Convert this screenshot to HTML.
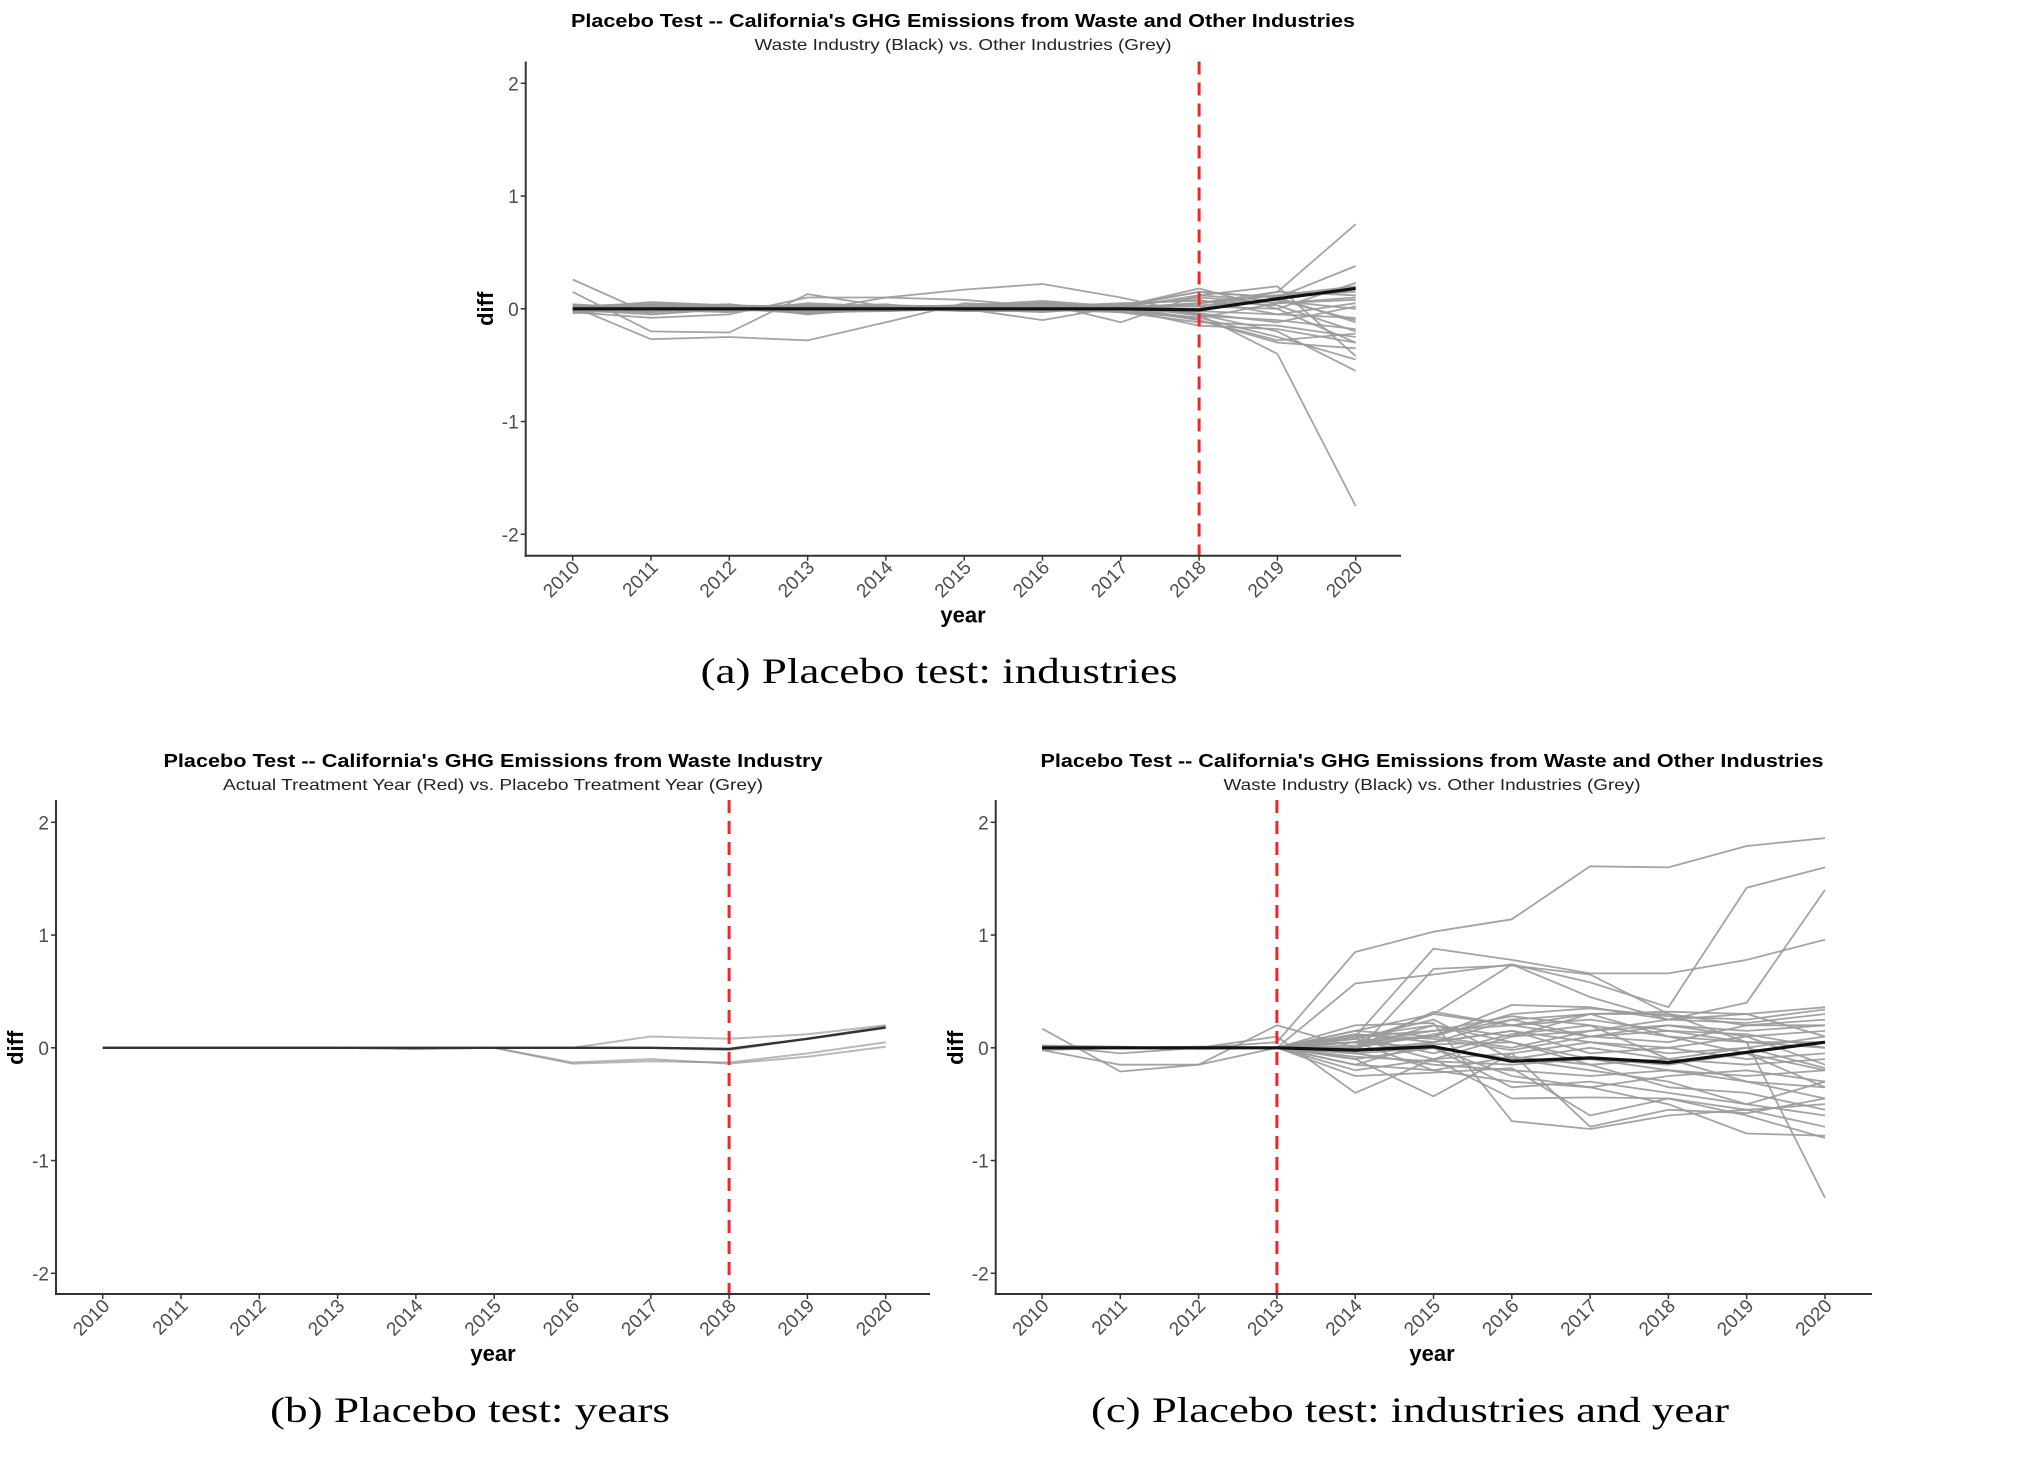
<!DOCTYPE html>
<html><head><meta charset="utf-8"><style>
html,body{margin:0;padding:0;background:#fff}
svg{display:block}
</style></head><body>
<svg id="fig" width="2028" height="1464" viewBox="0 0 2028 1464" xmlns="http://www.w3.org/2000/svg" font-family="'Liberation Sans', Arial, sans-serif">
<rect width="2028" height="1464" fill="#fff"/>
<g id="chartA"></g>
<g id="chartB"></g>
<g id="chartC"></g>
<text x="939" y="683" font-family="'Liberation Serif', serif" font-size="36" text-anchor="middle" textLength="477" lengthAdjust="spacingAndGlyphs">(a) Placebo test: industries</text>
<text x="470" y="1422" font-family="'Liberation Serif', serif" font-size="36" text-anchor="middle" textLength="400" lengthAdjust="spacingAndGlyphs">(b) Placebo test: years</text>
<text x="1410" y="1422" font-family="'Liberation Serif', serif" font-size="36" text-anchor="middle" textLength="638" lengthAdjust="spacingAndGlyphs">(c) Placebo test: industries and year</text>
</svg>
<script>
const years = [2010,2011,2012,2013,2014,2015,2016,2017,2018,2019,2020];
const yTicks = [2,1,0,-1,-2];

const treatA = 2018;
const blackA = [0,0,0,0,0,0,0,0,-0.01,0.09,0.18];
const greyA = [
[0.26,-0.05,0,0.02,0,0.02,0.03,0,0.05,0.15,0.75],
[0.02,-0.27,-0.25,-0.28,-0.12,0.05,0.02,0.01,-0.05,-0.4,-1.75],
[0.15,-0.2,-0.21,0.13,0.02,0.0,-0.1,0.02,0.15,0.1,0.38],
[-0.02,0.02,0.01,-0.02,0.1,0.17,0.22,0.1,-0.05,-0.2,-0.55],
[0.02,0.05,0.03,-0.05,0.02,0.02,0.05,-0.12,0.12,0.2,-0.42],
[0,0.06,0.03,0.01,0.02,0.03,0.07,0.02,0.18,0.0,0.23],
[-0.03,-0.08,-0.05,0.1,0.1,0.08,0.02,0.03,-0.1,-0.3,-0.35],
[0.03,0.02,0.04,-0.03,-0.02,0.0,0.03,0.01,0.05,0.12,0.2],
[-0.02,-0.03,0.01,0.04,0.0,-0.02,-0.02,0.0,-0.08,-0.25,-0.45],
[0.04,0.0,-0.02,0.02,0.03,0.01,0.0,0.02,0.1,0.05,0.1],
[0.01,0.03,0.0,-0.04,-0.01,0.02,0.04,-0.03,-0.12,-0.15,-0.25],
[-0.04,0.01,0.02,0.0,0.01,-0.01,0.01,0.04,0.08,-0.05,0.05],
[0.0,-0.01,-0.03,0.05,0.02,0.0,-0.03,0.02,0.03,0.08,-0.1],
[0.02,0.04,0.03,0.0,-0.02,0.03,0.05,0.0,-0.15,-0.18,-0.3],
[-0.01,-0.05,0.0,-0.02,0.03,0.02,-0.01,-0.02,0.05,0.12,0.15],
[0.03,0.01,0.02,0.03,-0.01,0.0,0.02,0.03,-0.06,-0.1,-0.18],
[0,0.02,-0.01,0.01,0.0,0.01,0.06,0.01,0.12,0.07,0.0],
[-0.03,0.0,0.04,-0.05,0.01,0.03,0.0,-0.01,-0.02,-0.05,-0.08],
[0.01,-0.02,0.0,0.02,0.04,-0.02,0.02,0.05,0.07,0.03,-0.2],
[0.02,0.03,-0.02,0.0,0.0,0.02,-0.02,0.0,-0.1,-0.28,-0.22],
[0,0.0,0.02,-0.01,-0.02,0.0,0.04,-0.02,0.0,0.15,0.12],
[-0.02,0.04,0.01,0.03,0.02,0.01,0.0,0.03,0.15,0.1,-0.12],
[0.01,-0.03,0.02,-0.03,0.0,0.03,0.03,0.0,-0.04,-0.12,0.02],
[0.03,0.02,-0.01,0.01,0.01,-0.01,0.05,0.01,0.02,0.0,-0.3],
[-0.01,0.01,0.03,0.02,-0.01,0.02,-0.01,-0.03,-0.08,0.05,0.08]
];

const treatB = 2018;
const blackB = [0,0,0,0,0,0,0,0,-0.01,0.08,0.18];
const greyB = [
[0,0,0,0,-0.01,0,0,0.1,0.08,0.12,0.2],
[0,0,0,0,-0.01,0,-0.14,-0.12,-0.13,-0.05,0.05],
[0,0,0,0,-0.01,0,-0.13,-0.1,-0.14,-0.08,0.01],
[0,0,0,0,0,0,0,0,-0.02,0.08,0.19]
];

const treatC = 2013;
const blackC = [0,0,0,0,-0.02,0.01,-0.12,-0.09,-0.13,-0.04,0.05];
const greyC = [
[0.0,0.0,0.0,0.05,0.85,1.03,1.14,1.61,1.6,1.79,1.86],
[0.0,0.0,0.0,0.0,0.05,0.3,0.74,0.58,0.36,1.42,1.6],
[0.0,0.0,0.0,0.0,0.1,0.88,0.78,0.66,0.66,0.78,0.96],
[0.0,0.0,0.0,0.0,0.57,0.65,0.74,0.45,0.25,0.4,1.4],
[0.17,-0.21,-0.15,0.0,-0.05,0.7,0.73,0.65,0.3,0.05,-1.33],
[-0.02,-0.15,-0.15,0.2,0.0,0.32,0.2,0.3,0.32,0.3,0.36],
[0.02,-0.05,0.0,0.1,-0.4,-0.1,-0.45,-0.44,-0.45,-0.6,-0.8],
[0.0,0.0,0.0,0.0,-0.1,-0.43,-0.05,-0.7,-0.55,-0.58,-0.45],
[0.0,0.0,0.0,0.0,0.2,0.22,-0.65,-0.72,-0.6,-0.55,-0.5],
[0.0,0.0,0.0,0.0,0.15,0.1,0.38,0.36,0.25,0.22,0.3],
[0.0,0.0,0.0,0.0,-0.2,-0.1,0.1,0.3,0.3,0.2,0.2],
[0.0,0.0,0.0,0.0,0.05,-0.2,-0.3,-0.35,-0.5,-0.76,-0.78],
[0.0,0.0,0.0,0.0,-0.25,-0.22,-0.18,-0.6,-0.45,-0.55,-0.7],
[0.0,0.0,0.0,0.0,0.1,0.15,0.28,0.2,-0.1,-0.3,-0.35],
[0.0,0.0,0.0,0.0,-0.15,0.05,0.25,0.1,0.2,0.1,0.15],
[0.0,0.0,0.0,0.0,0.08,0.25,-0.1,-0.2,-0.3,-0.5,-0.6],
[0.0,0.0,0.0,0.0,0.05,0.1,0.0,0.15,0.25,0.3,0.1],
[0.0,0.0,0.0,0.0,-0.05,-0.15,-0.2,-0.25,-0.2,-0.3,-0.45],
[0.0,0.0,0.0,0.0,0.12,0.05,0.15,0.05,0.0,0.1,-0.15],
[0.0,0.0,0.0,0.0,0.0,0.2,0.05,-0.1,-0.15,-0.05,-0.2],
[0.0,0.0,0.0,0.0,-0.1,0.0,-0.25,-0.35,-0.25,-0.2,-0.3],
[0.0,0.0,0.0,0.0,0.1,-0.05,0.12,0.2,0.1,0.05,0.05],
[0.0,0.0,0.0,0.0,0.05,0.15,0.2,0.1,0.05,0.2,0.25],
[0.0,0.0,0.0,0.0,-0.05,0.0,-0.1,0.0,-0.1,-0.15,-0.1],
[0.0,0.0,0.0,0.0,0.15,0.3,0.2,0.25,0.15,0.12,0.0],
[0.0,0.0,0.0,0.0,-0.15,-0.2,-0.08,-0.15,-0.35,-0.4,-0.55],
[0.0,0.0,0.0,0.0,0.02,0.1,0.3,0.35,0.28,0.25,0.34],
[0.0,0.0,0.0,0.0,0.08,-0.1,-0.05,0.05,-0.05,0.0,0.1],
[0.0,0.0,0.0,0.0,-0.02,0.05,0.15,-0.05,0.0,-0.1,-0.05],
[0.0,0.0,0.0,0.0,0.1,0.2,0.1,0.15,0.2,0.15,0.2],
[0.0,0.0,0.0,0.0,-0.08,-0.12,-0.15,-0.1,-0.2,-0.25,-0.2],
[0.0,0.0,0.0,0.0,0.05,0.0,-0.35,-0.3,-0.4,-0.5,-0.3],
[0.0,0.0,0.0,0.0,0.0,0.12,0.25,0.3,0.1,-0.05,-0.35],
[0.02,0.01,-0.01,0.0,0.12,0.08,-0.02,0.1,0.15,0.05,0.0],
[-0.02,0.0,0.01,0.0,-0.03,0.03,0.05,-0.15,-0.1,0.0,-0.18]
];

const NS = 'http://www.w3.org/2000/svg';
function mk(tag, attrs, parent){
  const e = document.createElementNS(NS, tag);
  for (const k in attrs) e.setAttribute(k, attrs[k]);
  parent.appendChild(e);
  return e;
}

function drawChart(g, cfg){
  const xScale = yr => cfg.x2010 + (yr - 2010) * cfg.xStep;
  const yScale = v => cfg.y0 - v * cfg.yUnit;
  const axisBottom = cfg.axisBottom, axisTop = cfg.axisTop, axisLeft = cfg.axisLeft, axisRight = cfg.axisRight;

  const t = mk('text', {x: cfg.titleX, y: cfg.titleY, 'font-size': 18, 'font-weight': 'bold', 'text-anchor': 'middle', fill: '#000', textLength: cfg.titleW, lengthAdjust: 'spacingAndGlyphs'}, g);
  
  
  t.textContent = cfg.title;
  const st = mk('text', {x: cfg.titleX, y: cfg.titleY + 23, 'font-size': 16, 'text-anchor': 'middle', fill: '#222', textLength: cfg.subW, lengthAdjust: 'spacingAndGlyphs'}, g);
  
  
  st.textContent = cfg.subtitle;

  const sg = mk('g', {}, g);
  
  
  cfg.grey.forEach(s => {
    const d = s.map((v, i) => (i ? 'L' : 'M') + xScale(years[i]).toFixed(1) + ',' + yScale(v).toFixed(1)).join(' ');
    const p = mk('path', {d: d, fill: 'none', stroke: cfg.greyColor, 'stroke-width': cfg.greyW, 'stroke-opacity': cfg.greyOp, 'stroke-linejoin': 'round'}, sg);
    
    
  });
  const d = cfg.black.map((v, i) => (i ? 'L' : 'M') + xScale(years[i]).toFixed(1) + ',' + yScale(v).toFixed(1)).join(' ');
  const bl = mk('path', {d: d, fill: 'none', stroke: cfg.blackColor, 'stroke-width': cfg.blackW, 'stroke-linejoin': 'round'}, g);
  
  

  const rx = xScale(cfg.treat);
  const rl = mk('line', {x1: rx, x2: rx, y1: axisTop, y2: axisBottom, stroke: '#f0262a', 'stroke-width': 3, 'stroke-dasharray': '13,8'}, g);
  
  

  const ya = mk('line', {x1: axisLeft, x2: axisLeft, y1: axisTop, y2: axisBottom + 1, stroke: '#333', 'stroke-width': 2}, g);
  
  
  const xa = mk('line', {x1: axisLeft - 1, x2: axisRight, y1: axisBottom, y2: axisBottom, stroke: '#333', 'stroke-width': 2}, g);
  
  

  yTicks.forEach(v => {
    const y = yScale(v);
    mk('line', {x1: axisLeft - 5, x2: axisLeft, y1: y, y2: y, stroke: '#333', 'stroke-width': 1.5}, g);
    const tl = mk('text', {x: axisLeft - 7, y: y + 7, 'font-size': 19, 'text-anchor': 'end', fill: '#4d4d4d'}, g);
    
    
    tl.textContent = String(v);
  });
  years.forEach(yr => {
    const x = xScale(yr);
    mk('line', {x1: x, x2: x, y1: axisBottom, y2: axisBottom + 5, stroke: '#333', 'stroke-width': 1.5}, g);
    const tx = x + 8, ty = axisBottom + 13;
    const tl = mk('text', {x: tx, y: ty, 'font-size': 19, 'text-anchor': 'end', fill: '#4d4d4d', transform: 'rotate(-45 ' + tx + ' ' + ty + ')'}, g);
    
    
    tl.textContent = String(yr);
  });

  const xt = mk('text', {x: cfg.titleX, y: axisBottom + 67, 'font-size': 22, 'font-weight': 'bold', 'text-anchor': 'middle', fill: '#000'}, g);
  
  
  xt.textContent = 'year';
  const yy = yScale(0);
  const yt = mk('text', {x: cfg.diffX, y: yy, 'font-size': 22, 'font-weight': 'bold', 'text-anchor': 'middle', fill: '#000', transform: 'rotate(-90 ' + cfg.diffX + ' ' + yy + ')'}, g);
  
  
  yt.textContent = 'diff';
}

drawChart(document.getElementById('chartA'), {
  x2010: 572.7, xStep: 78.3, y0: 308.8, yUnit: 112.75,
  axisTop: 61.5, axisBottom: 555.7, axisLeft: 525.7, axisRight: 1401,
  titleX: 963, titleY: 27, titleW: 784, subW: 417,
  title: "Placebo Test -- California's GHG Emissions from Waste and Other Industries",
  subtitle: "Waste Industry (Black) vs. Other Industries (Grey)",
  diffX: 493, treat: treatA, grey: greyA, black: blackA,
  greyColor: '#9a9a9a', greyW: 1.8, greyOp: 0.9, blackColor: '#111', blackW: 3.2
});
drawChart(document.getElementById('chartB'), {
  x2010: 102.7, xStep: 78.3, y0: 1047.8, yUnit: 112.75,
  axisTop: 800, axisBottom: 1294, axisLeft: 56, axisRight: 930,
  titleX: 493, titleY: 767, titleW: 659, subW: 540,
  title: "Placebo Test -- California's GHG Emissions from Waste Industry",
  subtitle: "Actual Treatment Year (Red) vs. Placebo Treatment Year (Grey)",
  diffX: 23, treat: treatB, grey: greyB, black: blackB,
  greyColor: '#8a8a8a', greyW: 2, greyOp: 0.6, blackColor: '#333', blackW: 2.4
});
drawChart(document.getElementById('chartC'), {
  x2010: 1042, xStep: 78.3, y0: 1047.8, yUnit: 112.75,
  axisTop: 800, axisBottom: 1294, axisLeft: 995.7, axisRight: 1872,
  titleX: 1432, titleY: 767, titleW: 783, subW: 417,
  title: "Placebo Test -- California's GHG Emissions from Waste and Other Industries",
  subtitle: "Waste Industry (Black) vs. Other Industries (Grey)",
  diffX: 963, treat: treatC, grey: greyC, black: blackC,
  greyColor: '#9a9a9a', greyW: 1.8, greyOp: 0.9, blackColor: '#111', blackW: 3.2
});
</script>
</body></html>
